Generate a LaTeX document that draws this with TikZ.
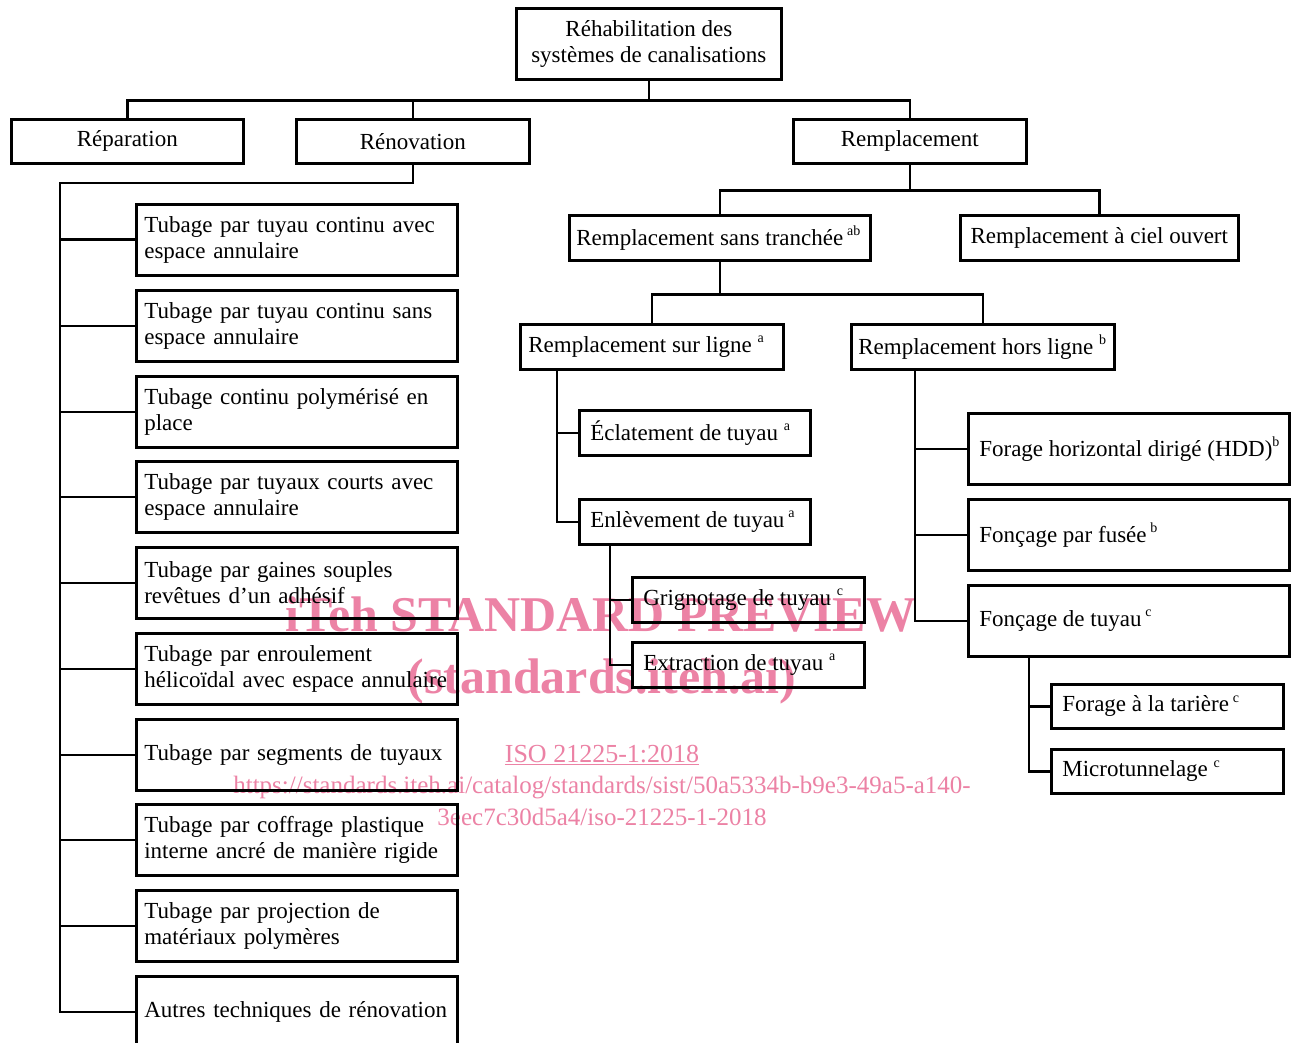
\documentclass[tikz,border=0pt]{standalone}
\usepackage{fontspec}
\setmainfont{Liberation Serif}
\definecolor{wm}{RGB}{236,130,165}
\newcommand\mysz{\fontsize{23}{26}\selectfont}
\newcommand\sups[1]{\raisebox{0.42em}{\fontsize{14}{14}\selectfont #1}}
\newcommand\fixw[2]{\makebox[#1pt][l]{#2}}
\tikzset{
  bx/.style={draw, line width=2.6pt, anchor=north west, inner ysep=0pt, font=\mysz},
  cbox/.style={bx, align=center, inner xsep=0pt},
  lbox/.style={bx, align=left},
  conn/.style={line width=2.6pt, line cap=rect, line join=miter},
  wmk/.style={text=wm, inner sep=0pt, anchor=base},
}
\begin{document}
\begin{tikzpicture}[x=1pt,y=-1pt]
\clip (0,0) rectangle (1296,1043);
\fill[white] (0,0) rectangle (1296,1043);
% watermark (behind)
\node[wmk, font=\fontsize{50}{50}\selectfont\bfseries] (w1) at (601,631) {iTeh STANDARD PREVIEW};
\node[wmk, font=\fontsize{50}{50}\selectfont\bfseries] (w2) at (602,693) {(standards.iteh.ai)};
\node[wmk, font=\fontsize{26}{26}\selectfont] (w3) at (602,762) {\underline{ISO 21225-1:2018}};
\node[wmk, font=\fontsize{25}{25}\selectfont] (w4) at (602,793) {https://standards.iteh.ai/catalog/standards/sist/50a5334b-b9e3-49a5-a140-};
\node[wmk, font=\fontsize{25}{25}\selectfont] (w5) at (602,825) {3eec7c30d5a4/iso-21225-1-2018};

% top levels
\node[cbox, minimum width=265pt, minimum height=71pt] (root) at (515,7) {Réhabilitation des\\systèmes de canalisations};
\node[cbox, minimum width=232pt, minimum height=44pt] (rep) at (10,118) {Réparation};
\node[cbox, minimum width=233pt, minimum height=44pt] (ren) at (295,118) {Rénovation};
\node[cbox, minimum width=233pt, minimum height=44pt] (rem) at (792,118) {Remplacement};

\coordinate (j1) at ([yshift=-20pt]root.south);
\draw[conn] (root.south) -- (j1);
\draw[conn] (rep.north) |- (j1) -| (rem.north);
\draw[conn] (ren.north) -- (ren.north |- j1);

% renovation list
\coordinate (j2) at (60,183);
\draw[conn] (ren.south) |- (j2);
\foreach \i/\yy/\t in {
  1/203/{Tubage par tuyau continu avec\\espace annulaire},
  2/289/{Tubage par tuyau continu sans\\espace annulaire},
  3/375/{Tubage continu polymérisé en\\place},
  4/460/{Tubage par tuyaux courts avec\\espace annulaire},
  5/546/{Tubage par gaines souples\\revêtues d’un adhésif},
  6/632/{Tubage par enroulement\\hélicoïdal avec espace annulaire},
  7/718/{Tubage par segments de tuyaux},
  8/803/{Tubage par coffrage plastique\\interne ancré de manière rigide},
  9/889/{Tubage par projection de\\matériaux polymères},
  10/975/{Autres techniques de rénovation}}{
  \node[lbox, inner xsep=8pt, text width=305pt, minimum height=71pt] (L\i) at (135,\yy) {\t};
  \draw[conn] (L\i.west) -- (j2 |- L\i.west);
}
\draw[conn] (j2) -- (j2 |- L10.west);

% remplacement
\node[lbox, inner xsep=7pt, minimum height=45pt] (sanstr) at (568,214) {\fixw{287}{Remplacement sans tranchée\,\sups{ab}}};
\node[cbox, minimum width=278pt, minimum height=45pt] (ciel) at (959,214) {Remplacement à ciel ouvert};
\coordinate (j3) at ([yshift=-26pt]rem.south);
\draw[conn] (rem.south) -- (j3);
\draw[conn] (sanstr.north) |- (j3) -| (ciel.north);

\node[lbox, inner xsep=8pt, minimum height=45pt] (sur) at (519,323) {\fixw{247}{Remplacement sur ligne~\sups{a}}};
\node[lbox, inner xsep=7pt, minimum height=45pt] (hors) at (850,323) {\fixw{249}{Remplacement hors ligne~\sups{b}}};
\coordinate (j4) at ([yshift=-33pt]sanstr.south);
\draw[conn] (sanstr.south) -- (j4);
\draw[conn] (sur.north) |- (j4) -| (hors.north);

% sur ligne
\node[lbox, inner xsep=11pt, minimum height=45pt] (ecl) at (578,409) {\fixw{209}{Éclatement de tuyau~\sups{a}}};
\node[lbox, inner xsep=11pt, minimum height=45pt] (enl) at (578,498) {\fixw{209}{Enlèvement de tuyau\,\sups{a}}};
\draw[conn] ([xshift=38pt]sur.south west) |- (ecl.west);
\draw[conn] ([xshift=38pt]sur.south west) |- (enl.west);

\node[lbox, inner xsep=11pt, minimum height=45pt] (grig) at (631,576) {\fixw{210}{Grignotage de tuyau~\sups{c}}};
\node[lbox, inner xsep=11pt, minimum height=45pt] (extr) at (631,641) {\fixw{210}{Extraction de tuyau~\sups{a}}};
\draw[conn] ([xshift=32pt]enl.south west) |- (grig.west);
\draw[conn] ([xshift=32pt]enl.south west) |- (extr.west);

% hors ligne
\node[lbox, inner xsep=11pt, minimum height=71pt] (hdd) at (967,412) {\fixw{299}{Forage horizontal dirigé (HDD)\sups{b}}};
\node[lbox, inner xsep=11pt, minimum height=71pt] (fus) at (967,498) {\fixw{299}{Fonçage par fusée\,\sups{b}}};
\node[lbox, inner xsep=11pt, minimum height=71pt] (fonc) at (967,584) {\fixw{299}{Fonçage de tuyau\,\sups{c}}};
\draw[conn] ([xshift=65pt]hors.south west) |- (hdd.west);
\draw[conn] ([xshift=65pt]hors.south west) |- (fus.west);
\draw[conn] ([xshift=65pt]hors.south west) |- (fonc.west);

\node[lbox, inner xsep=11pt, minimum height=44pt] (tar) at (1050,683) {\fixw{210}{Forage à la tarière\,\sups{c}}};
\node[lbox, inner xsep=11pt, minimum height=44pt] (micro) at (1050,748) {\fixw{210}{Microtunnelage~\sups{c}}};
\draw[conn] ([xshift=62pt]fonc.south west) |- (tar.west);
\draw[conn] ([xshift=62pt]fonc.south west) |- (micro.west);
\end{tikzpicture}
\end{document}
